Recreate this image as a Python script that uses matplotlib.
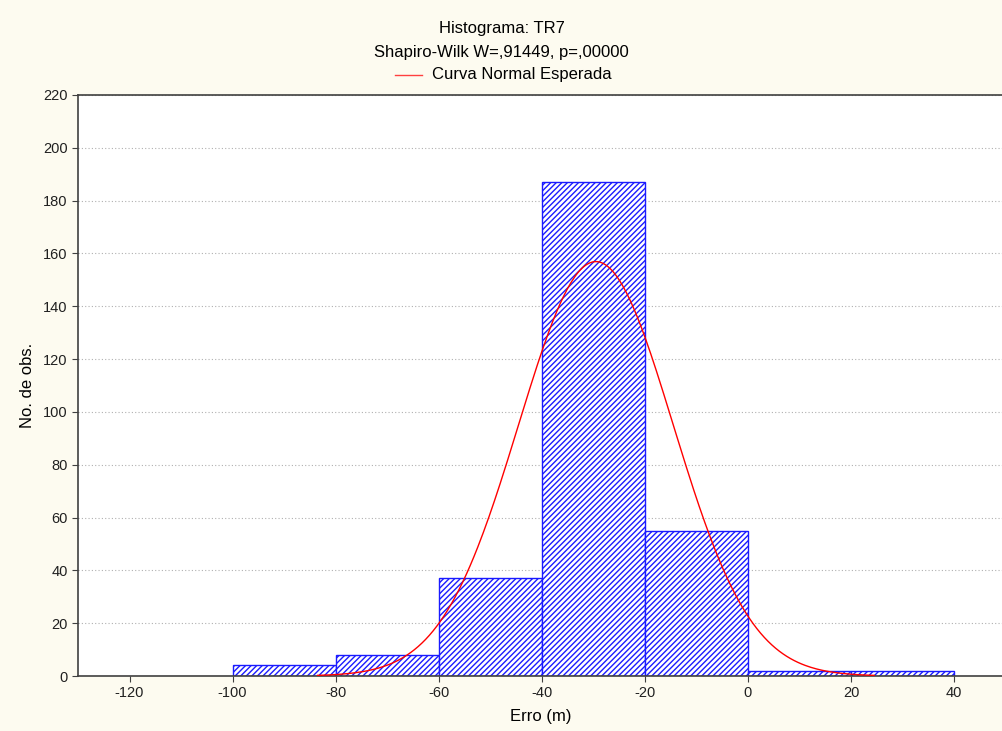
import matplotlib.pyplot as plt
import numpy as np

# histogram bins (Erro in m) and counts
bin_edges = [-100, -80, -60, -40, -20, 0, 20, 40]
counts = [4, 8, 37, 187, 55, 2, 2]

# expected normal curve parameters (fitted by eye)
curve_mean = -29.5
curve_std = 15.0
curve_span = 3.6  # curve drawn to +/- this many std devs

x_ticks = [-120, -100, -80, -60, -40, -20, 0, 20, 40]
y_ticks = [0, 20, 40, 60, 80, 100, 120, 140, 160, 180, 200, 220]

plt.rcParams['font.family'] = ['Liberation Sans', 'DejaVu Sans']
plt.rcParams['axes.unicode_minus'] = False
plt.rcParams['hatch.color'] = '#3c3cff'
plt.rcParams['hatch.linewidth'] = 1.0

fig = plt.figure(figsize=(10.03, 7.31), dpi=100, facecolor='#fdfbf0')
ax = fig.add_axes([78 / 1003, 1 - 676 / 731, (1003 - 78) / 1003, (676 - 95) / 731])
ax.set_facecolor('white')

widths = np.diff(bin_edges)
ax.bar(bin_edges[:-1], counts, width=widths, align='edge', color='white',
       edgecolor='#1a1aff', linewidth=1.0, hatch='//////', zorder=2)

n_total = sum(counts)
bw = widths[0]
xs = np.linspace(curve_mean - curve_span * curve_std, curve_mean + curve_span * curve_std, 300)
ys = n_total * bw / (curve_std * np.sqrt(2 * np.pi)) * np.exp(-0.5 * ((xs - curve_mean) / curve_std) ** 2)
ax.plot(xs, ys, color='red', linewidth=1.0, zorder=3)

ax.set_xlim(-130, 49.5)
ax.set_ylim(0, 220)
ax.set_xticks(x_ticks)
ax.set_yticks(y_ticks)
ax.tick_params(labelsize=10.5, length=4, color='#404040', labelcolor='#202020')
ax.yaxis.grid(True, linestyle=(0, (1, 2)), color='#b0b0b0', linewidth=0.8, zorder=0)
ax.set_axisbelow(True)
for s in ['left', 'bottom', 'top']:
    ax.spines[s].set_color('#404040')
    ax.spines[s].set_linewidth(1.2)
ax.spines['right'].set_visible(False)

ax.set_xlabel('Erro (m)', fontsize=12, labelpad=6)
ax.set_ylabel('No. de obs.', fontsize=12, labelpad=6)

fig.text(0.5, 1 - 29 / 731, 'Histograma: TR7', ha='center', va='center', fontsize=12)
fig.text(0.5, 1 - 52 / 731, 'Shapiro-Wilk W=,91449, p=,00000', ha='center', va='center', fontsize=12)
fig.lines.append(plt.Line2D([395 / 1003, 422 / 1003], [1 - 75 / 731, 1 - 75 / 731],
                            color='#ff4040', linewidth=1.0, transform=fig.transFigure))
fig.text(432 / 1003, 1 - 75 / 731, 'Curva Normal Esperada', ha='left', va='center', fontsize=12)

fig.savefig('out.png', dpi=100, facecolor=fig.get_facecolor())
